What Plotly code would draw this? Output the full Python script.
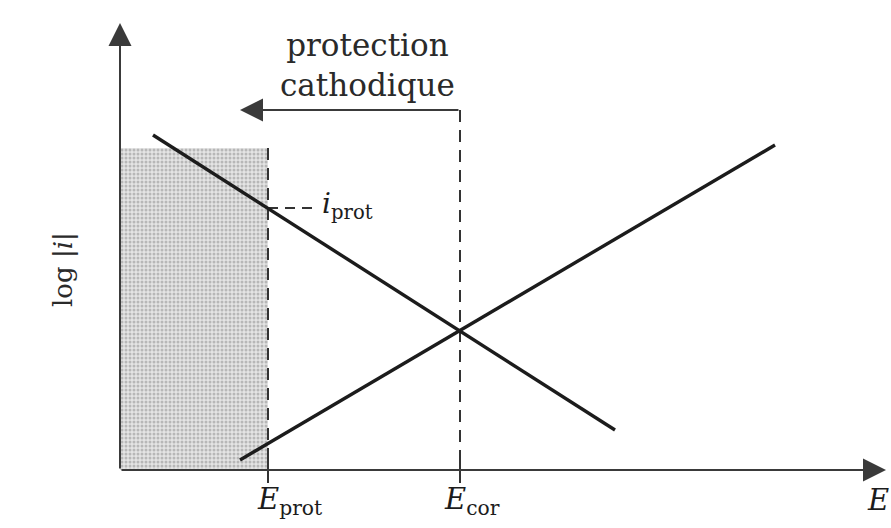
import plotly.graph_objects as go

# Potentials (arbitrary units along the E axis)
E_prot = 1.48
E_cor = 3.40

# Tafel lines: log|i| versus E, given by their end points
cathodic_E = [0.33, 4.95]
cathodic_logi = [3.35, 0.40]
anodic_E = [1.20, 6.55]
anodic_logi = [0.10, 3.25]

# Current density level reached at E_prot on the cathodic line
i_prot = 2.62

# Protected domain (shaded) and arrow level of the label
zone_top = 3.22
arrow_level = 3.60
arrow_tip = 1.20

# Axis extents
E_max = 7.66
logi_max = 4.47

serif = "DejaVu Serif"
ink = "#1c1c1c"

fig = go.Figure()


def seg(x, y, color, width, dash=None):
    fig.add_trace(go.Scatter(x=x, y=y, mode="lines",
                             line=dict(color=color, width=width, dash=dash),
                             showlegend=False, hoverinfo="skip"))


# Shaded protection zone
fig.add_trace(go.Scatter(
    x=[0, E_prot, E_prot, 0, 0],
    y=[0, 0, zone_top, zone_top, 0],
    mode="lines", line=dict(width=0), fill="toself",
    fillcolor="#d9d9d9",
    fillpattern=dict(shape=".", size=4, solidity=0.45,
                     bgcolor="#e4e4e4", fgcolor="#8a8a8a"),
    hoverinfo="skip", showlegend=False))

# Dashed verticals at E_prot and E_cor
seg([E_prot, E_prot], [zone_top, 0], "#333", 2, "12px,8px")
seg([E_cor, E_cor], [arrow_level, 0], "#333", 2, "12px,8px")
# ticks below the E axis
for e in (E_prot, E_cor):
    seg([e, e], [0.12, -0.13], "#333", 2)

# i_prot level
seg([E_prot, E_prot + 0.47], [i_prot, i_prot], "#333", 2, "10px,7px")

# Tafel lines
seg(cathodic_E, cathodic_logi, ink, 3.4)
seg(anodic_E, anodic_logi, ink, 3.4)

# Axes and the cathodic-protection arrow
arrow = dict(xref="x", yref="y", axref="x", ayref="y", text="",
             showarrow=True, arrowhead=2, arrowsize=2.3, arrowwidth=2,
             arrowcolor="#3a3a3a", standoff=0, startstandoff=0)
fig.add_annotation(x=0, y=logi_max, ax=0, ay=0, **arrow)
fig.add_annotation(x=E_max, y=0, ax=0, ay=0, **arrow)
fig.add_annotation(x=arrow_tip, y=arrow_level, ax=E_cor, ay=arrow_level, **arrow)

# Texts
fig.add_annotation(x=2.47, y=4.05, text="protection<br>cathodique",
                   showarrow=False, xanchor="center", yanchor="middle",
                   font=dict(family=serif, size=31, color="#2a2a2a"))
fig.add_annotation(x=1.35, y=-0.31, text="<i>E</i><sub>prot</sub>",
                   showarrow=False, xanchor="left", yanchor="middle",
                   font=dict(family=serif, size=29, color=ink))
fig.add_annotation(x=3.22, y=-0.31, text="<i>E</i><sub>cor</sub>",
                   showarrow=False, xanchor="left", yanchor="middle",
                   font=dict(family=serif, size=29, color=ink))
fig.add_annotation(x=7.58, y=-0.30, text="<i>E</i>",
                   showarrow=False, xanchor="center", yanchor="middle",
                   font=dict(family=serif, size=29, color=ink))
fig.add_annotation(x=E_prot + 0.52, y=i_prot + 0.03, text="<i>i</i><sub>prot</sub>",
                   showarrow=False, xanchor="left", yanchor="middle",
                   font=dict(family=serif, size=28, color=ink))
fig.add_annotation(x=-0.57, y=2.0, text="log |<i>i</i>|", textangle=-90,
                   showarrow=False, xanchor="center", yanchor="middle",
                   font=dict(family=serif, size=26, color="#2a2a2a"))

fig.update_layout(
    width=891, height=528,
    margin=dict(l=0, r=0, t=0, b=0),
    paper_bgcolor="white", plot_bgcolor="white",
    xaxis=dict(range=[-1.20, 7.71], visible=False, fixedrange=True),
    yaxis=dict(range=[-0.58, 4.70], visible=False, fixedrange=True),
    showlegend=False,
)

fig.write_html("out.html")
